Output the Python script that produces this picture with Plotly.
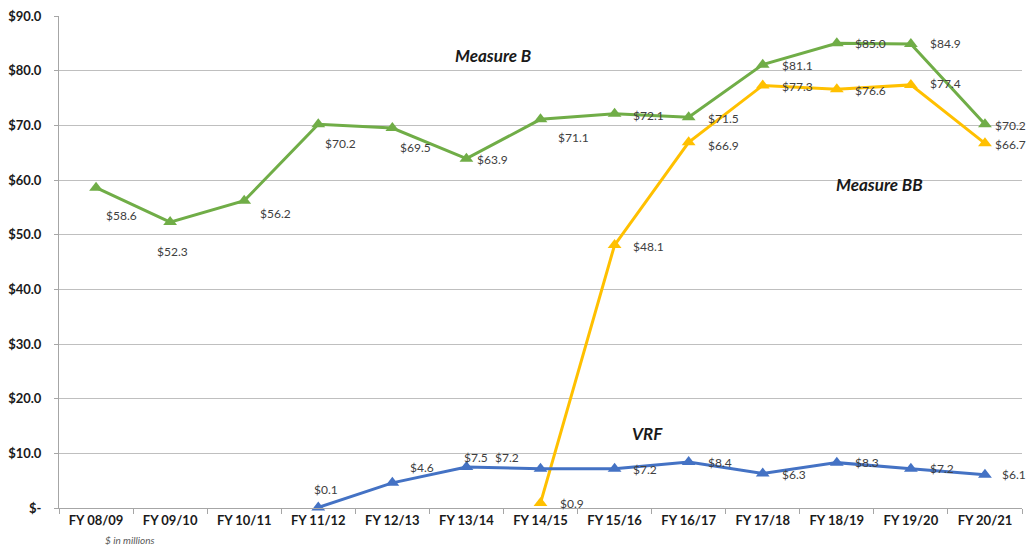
import plotly.graph_objects as go

categories = ["FY 08/09", "FY 09/10", "FY 10/11", "FY 11/12", "FY 12/13", "FY 13/14",
              "FY 14/15", "FY 15/16", "FY 16/17", "FY 17/18", "FY 18/19", "FY 19/20", "FY 20/21"]
measure_b = [58.6, 52.3, 56.2, 70.2, 69.5, 63.9, 71.1, 72.1, 71.5, 81.1, 85.0, 84.9, 70.2]
measure_bb = [None, None, None, None, None, None, 0.9, 48.1, 66.9, 77.3, 76.6, 77.4, 66.7]
vrf = [None, None, None, 0.1, 4.6, 7.5, 7.2, 7.2, 8.4, 6.3, 8.3, 7.2, 6.1]
y_ticks = [0, 10, 20, 30, 40, 50, 60, 70, 80, 90]
y_ticktext = ["$-", "$10.0", "$20.0", "$30.0", "$40.0", "$50.0", "$60.0", "$70.0", "$80.0", "$90.0"]

# label offsets (xanchor, xshift px, yshift px) per point
b_pos = [("left", 8, -28), ("center", 2, -29), ("left", 14, -13), ("left", 5, -19),
         ("left", 6, -19), ("left", 9, -1), ("left", 15, -18), ("left", 16, -2),
         ("left", 17, -1), ("left", 17, -1), ("left", 16, 0), ("left", 17, 0), ("left", 8, -1)]
bb_pos = [None] * 6 + [("left", 17, 0), ("left", 16, -1), ("left", 17, -3), ("left", 17, -1),
                       ("left", 16, -1), ("left", 17, 1), ("left", 8, -1)]
vrf_pos = [None] * 3 + [("center", 8, 18), ("left", 16, 15), ("left", -4, 10), ("right", -20, 11),
                        ("left", 16, -1), ("left", 17, 0), ("left", 17, -1), ("left", 16, 0),
                        ("left", 17, 0), ("left", 15, 0)]

GREEN = "#70AD47"
YELLOW = "#FFC000"
BLUE = "#4472C4"

fig = go.Figure()
for name, vals, col in [("Measure B", measure_b, GREEN), ("Measure BB", measure_bb, YELLOW), ("VRF", vrf, BLUE)]:
    xs = [c for c, v in zip(categories, vals) if v is not None]
    ys = [v for v in vals if v is not None]
    fig.add_trace(go.Scatter(x=xs, y=ys, mode="lines+markers", name=name,
                             line=dict(color=col, width=3),
                             marker=dict(symbol="triangle-up", size=12, color=col),
                             showlegend=False, hoverinfo="x+y", cliponaxis=False))

annotations = []
for vals, pos in [(measure_b, b_pos), (measure_bb, bb_pos), (vrf, vrf_pos)]:
    for i, v in enumerate(vals):
        if v is None:
            continue
        xa, xs_, ys_ = pos[i]
        annotations.append(dict(x=i, y=v, xref="x", yref="y", text=f"${v:.1f}", showarrow=False,
                                xanchor=xa, yanchor="middle", xshift=xs_, yshift=ys_,
                                font=dict(family="Lato", size=12, color="#404040")))

for txt, x, y in [("Measure B", 5.36, 82.7), ("Measure BB", 10.58, 59.1), ("VRF", 7.45, 13.7)]:
    annotations.append(dict(x=x, y=y, xref="x", yref="y", text=f"<b><i>{txt}</i></b>", showarrow=False,
                            xanchor="center", yanchor="middle",
                            font=dict(family="Lato", size=17, color="#1a1a1a")))

annotations.append(dict(x=(130 - 59) / 963, y=-(540 - 508) / 492, xref="paper", yref="paper",
                        text="<i>$ in millions</i>", showarrow=False, xanchor="center", yanchor="middle",
                        font=dict(family="Lato", size=10, color="#595959")))

fig.update_layout(
    width=1026, height=547,
    margin=dict(l=59, r=4, t=16, b=39, pad=0),
    paper_bgcolor="white", plot_bgcolor="white",
    annotations=annotations,
    xaxis=dict(type="category", categoryorder="array", categoryarray=categories,
               range=[-0.5, 12.5], tickson="boundaries", ticks="outside", ticklen=5,
               tickcolor="#a6a6a6", showline=True, linecolor="#a6a6a6", linewidth=1,
               showgrid=False, automargin=False,
               tickfont=dict(family="Lato", size=13, color="#1a1a1a"),
               tickprefix="<b>", ticksuffix="</b>"),
    yaxis=dict(range=[0, 90], tickvals=y_ticks, ticktext=[f"<b>{t}</b>" for t in y_ticktext],
               showgrid=True, gridcolor="#bfbfbf", gridwidth=1, showline=True,
               linecolor="#a6a6a6", linewidth=1, zeroline=False, ticks="outside", ticklen=4,
               tickcolor="#a6a6a6", automargin=False, ticklabelstandoff=10,
               tickfont=dict(family="Lato", size=13, color="#1a1a1a")),
)

fig.write_html("out.html", config={"displayModeBar": False},
               post_script="document.body.style.margin='0';document.body.style.overflow='hidden';")
